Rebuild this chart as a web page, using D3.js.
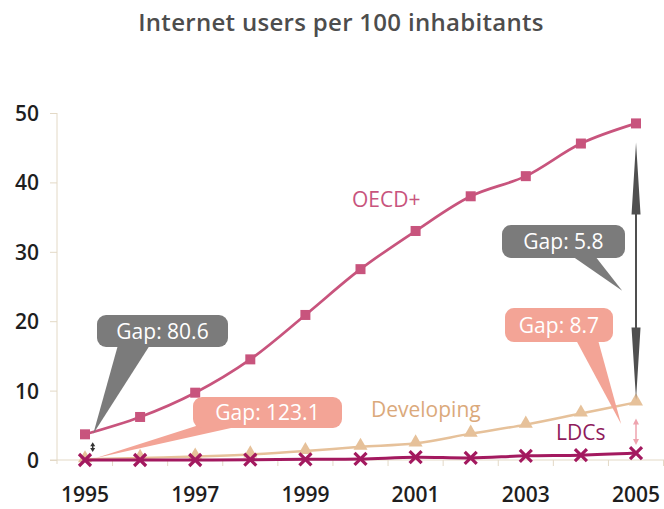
<!DOCTYPE html>
<html>
<head>
<meta charset="utf-8">
<script src="https://cdn.jsdelivr.net/npm/d3@7"></script>
<style>
    body { margin: 0; background: #fff; }
    svg { display: block; font-family: 'Open Sans', 'Noto Sans', sans-serif; }
    .tick-label { fill: #1e1e1e; font-family: 'Open Sans', 'Noto Sans', sans-serif; font-size: 21px; font-weight: 600; }
    .gap-text { fill: #fff; font-size: 21px; }
</style>
</head>
<body>
<svg id="chart" width="664" height="509"></svg>
<script>
const years = [1995, 1996, 1997, 1998, 1999, 2000, 2001, 2002, 2003, 2004, 2005];
const oecdValues = [3.7, 6.2, 9.7, 14.5, 20.9, 27.5, 33.0, 38.0, 40.9, 45.6, 48.5];
const developingValues = [0.1, 0.3, 0.5, 0.8, 1.3, 1.9, 2.4, 3.8, 5.1, 6.7, 8.3];
const ldcValues = [0.0, 0.0, 0.0, 0.05, 0.1, 0.15, 0.4, 0.3, 0.6, 0.7, 1.0];
const yTicks = [0, 10, 20, 30, 40, 50];
const xTickLabels = [1995, 1997, 1999, 2001, 2003, 2005];
const gapLabels = ['Gap: 80.6', 'Gap: 123.1', 'Gap: 5.8', 'Gap: 8.7'];

const chartProperties = {
    xMin: 85, xMax: 636,
    yMin: 460, yMax: 113
};

const colors = {
    oecd: '#c8547d',
    developing: '#e6c19a',
    ldc: '#a3195f',
    grey: '#7b7b7b',
    salmon: '#f3a496',
    axis: '#e3d9c6'
};

const svg = d3.select('#chart');
const x = d3.scaleLinear().domain([1995, 2005]).range([chartProperties.xMin, chartProperties.xMax]);
const y = d3.scaleLinear().domain([0, 50]).range([chartProperties.yMin, chartProperties.yMax]);

function zip(values) {
    return years.map((yr, i) => ({x: yr, y: values[i]}));
}

// title
svg.append('text')
    .attr('x', 341).attr('y', 31)
    .attr('text-anchor', 'middle')
    .style('font-size', '24px').style('font-weight', 600)
    .style('letter-spacing', '0.3px')
    .style('fill', '#4d4d4d')
    .text('Internet users per 100 inhabitants');

// axes
const axisY = d3.axisLeft(y).tickValues(yTicks).tickSize(7).tickFormat(d3.format('d'));
const gy = svg.append('g').attr('transform', `translate(57,0)`).call(axisY)
    .attr('font-family', null).attr('font-size', null);
gy.select('.domain').attr('stroke', colors.axis).attr('d', `M0,${y(50)}V${y(0) + 4}`);
gy.selectAll('.tick line').attr('stroke', colors.axis);
gy.selectAll('.tick text').attr('class', 'tick-label').attr('x', -18).attr('dy', '0.36em');

const halfYears = d3.range(1994.5, 2006, 1);
const gx = svg.append('g').attr('transform', `translate(0,${y(0)})`);
gx.append('line').attr('x1', 50).attr('x2', 664).attr('stroke', colors.axis);
gx.selectAll('.htick').data(halfYears.filter(d => x(d) > 60)).enter().append('line')
    .attr('x1', d => x(d)).attr('x2', d => x(d)).attr('y1', 0).attr('y2', 6)
    .attr('stroke', colors.axis);
gx.selectAll('.xl').data(xTickLabels).enter().append('text')
    .attr('class', 'tick-label')
    .attr('x', d => x(d)).attr('y', 42)
    .attr('text-anchor', 'middle')
    .text(d => d);

// lines
const lineGen = d3.line().x(d => x(d.x)).y(d => y(d.y)).curve(d3.curveCatmullRom.alpha(0.5));

function appendLine(values, color, width) {
    svg.append('path').attr('d', lineGen(zip(values)))
        .attr('fill', 'none').attr('stroke', color).attr('stroke-width', width);
}

// developing
appendLine(developingValues, colors.developing, 2.5);
svg.selectAll('.tri').data(zip(developingValues)).enter().append('path')
    .attr('d', d3.symbol(d3.symbolTriangle, 85))
    .attr('transform', d => `translate(${x(d.x)},${y(d.y) - 1})`)
    .attr('fill', colors.developing);

// oecd
appendLine(oecdValues, colors.oecd, 2.7);
svg.selectAll('.sq').data(zip(oecdValues)).enter().append('rect')
    .attr('x', d => x(d.x) - 5).attr('y', d => y(d.y) - 5)
    .attr('width', 10).attr('height', 10)
    .attr('fill', colors.oecd);

// ldc
appendLine(ldcValues, colors.ldc, 3);
svg.selectAll('.cross').data(zip(ldcValues)).enter().append('path')
    .attr('d', 'M-6,-6L6,6M-6,6L6,-6')
    .attr('transform', d => `translate(${x(d.x)},${y(d.y)})`)
    .attr('stroke', colors.ldc).attr('stroke-width', 3.2);

// series labels
function appendLabel(text, px, py, color) {
    svg.append('text').attr('x', px).attr('y', py)
        .style('font-size', '21px').style('fill', color).text(text);
}
appendLabel('OECD+', 352, 207, colors.oecd);
appendLabel('Developing', 371, 417, '#dba97b');
appendLabel('LDCs', 556, 440, '#8f1b5c');

// double arrows
function doubleArrow(xv, y1, y2, color, headLen, headW, width) {
    const g = svg.append('g');
    const xp = x(xv);
    g.append('line').attr('x1', xp).attr('x2', xp).attr('y1', y1 + headLen - 2).attr('y2', y2 - headLen + 2)
        .attr('stroke', color).attr('stroke-width', width);
    g.append('path').attr('d', `M${xp},${y1}L${xp - headW / 2},${y1 + headLen}L${xp + headW / 2},${y1 + headLen}Z`).attr('fill', color);
    g.append('path').attr('d', `M${xp},${y2}L${xp - headW / 2},${y2 - headLen}L${xp + headW / 2},${y2 - headLen}Z`).attr('fill', color);
}
doubleArrow(2005, y(oecdValues[10]) + 19, y(developingValues[10]) - 3, '#4f4f4f', 72, 9, 2);
doubleArrow(2005, y(developingValues[10]) + 16, y(ldcValues[10]) - 8, '#eea3ae', 6, 6, 1.5);
doubleArrow(1995.14, y(oecdValues[0]) + 8, y(0) - 8, '#333', 4, 5, 1.5);

// callouts
const callouts = [
    {label: gapLabels[0], box: [97, 315, 131, 32], base: [118, 150], tip: [1995.15, 3.8], color: colors.grey},
    {label: gapLabels[1], box: [193, 397, 149, 31], base: [196, 240], tip: [1995.2, 0.3], color: colors.salmon},
    {label: gapLabels[2], box: [502, 225, 123, 33], base: [572, 595], tip: [2004.75, 24.4], color: colors.grey},
    {label: gapLabels[3], box: [505, 308, 108, 34], base: [576, 598], tip: [2004.73, 5.2], color: colors.salmon}
];

callouts.forEach(c => {
    const [bx, by, bw, bh] = c.box;
    const g = svg.append('g');
    g.append('path')
        .attr('d', `M${c.base[0]},${by + bh - 2}L${x(c.tip[0])},${y(c.tip[1])}L${c.base[1]},${by + bh - 2}Z`)
        .attr('fill', c.color);
    g.append('rect').attr('x', bx).attr('y', by).attr('width', bw).attr('height', bh)
        .attr('rx', 9).attr('fill', c.color);
    g.append('text').attr('class', 'gap-text')
        .attr('x', bx + bw / 2).attr('y', by + bh / 2).attr('dy', '0.36em')
        .attr('text-anchor', 'middle').text(c.label);
});
</script>
</body>
</html>
